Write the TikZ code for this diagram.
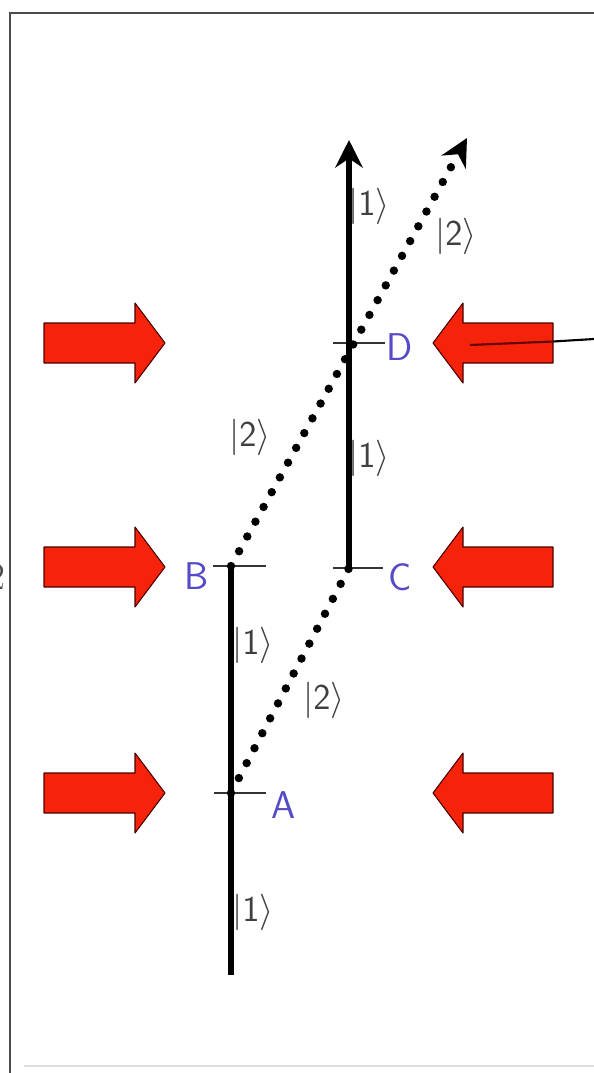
\documentclass[tikz,border=0pt]{standalone}
\usepackage{tikz}
\usetikzlibrary{arrows.meta}

\definecolor{arrowred}{RGB}{245,35,10}
\definecolor{eventblue}{RGB}{85,75,200}

\tikzset{
  worldline/.style={line width=3.4pt},
  photonline/.style={line width=4.8pt,line cap=round,dash pattern=on 0pt off 9.6pt},
  eventtick/.style={line width=0.9pt,black!80},
  ketlabel/.style={black!75,font=\fontsize{20}{24}\selectfont},
  eventlabel/.style={eventblue,font=\fontsize{22}{26}\selectfont\sffamily},
  pulse/.style={fill=arrowred,draw=black!70!red,line width=0.6pt,line join=round}
}

\begin{document}
\begin{tikzpicture}[x=0.02cm,y=-0.02cm,>={Stealth[length=0.55cm,width=0.55cm]}]
  \useasboundingbox (0,0) rectangle (594,1073);

  % frame
  \draw[gray!60!black,line width=1.6pt] (594,13) -| (10,1073);
  \draw[gray!25,line width=0.6pt] (24,1066) -- (594,1066);
  \begin{scope}
    \clip (0,540) rectangle (5,610);
    \node[black!70,font=\fontsize{22}{26}\selectfont] (cut) at (-4,577) {2};
  \end{scope}

  % events
  \coordinate (start1) at (231,975);
  \coordinate (A) at (231,793);
  \coordinate (B) at (231,566);
  \coordinate (C) at (349,568);
  \coordinate (D) at (349,343);
  \coordinate (end1) at (349,140);
  \coordinate (end2) at (467,138);

  % laser pulses
  \foreach \y in {343,567,793} {
    \draw[pulse] (44,\y-20) -- (135,\y-20) -- (135,\y-40) -- (165,\y)
      -- (135,\y+40) -- (135,\y+20) -- (44,\y+20) -- cycle;
  }
  \coordinate (wire) at (594,339);
  \foreach \y in {343,567,793} {
    \draw[pulse] (553,\y-20) -- (463,\y-20) -- (463,\y-40) -- (433,\y)
      -- (463,\y+40) -- (463,\y+20) -- (553,\y+20) -- cycle;
  }
  \draw[line width=1.2pt,red!40!black] (470,345) -- (553,341.5);
  \draw[line width=1.2pt] (553,341.5) -- (wire);

  % ticks
  \draw[eventtick] (A) ++(-17,0) -- ++(52,0);
  \draw[eventtick] (B) ++(-18,0) -- ++(53,0);
  \draw[eventtick] (C) ++(-16,0) -- ++(50,0);
  \draw[eventtick] (D) ++(-16,0) -- ++(52,0);

  % paths
  \draw[worldline] (start1) -- (B);
  \draw[worldline,->] (C) -- (end1);
  \draw[photonline] (A) -- (C);
  \draw[photonline,->] (B) -- (end2);

  % labels
  \node[ketlabel] (k1) at (253,912) {$|\mathsf{1}\rangle$};
  \node[ketlabel] (k2) at (253,645) {$|\mathsf{1}\rangle$};
  \node[ketlabel] (k3) at (369,458) {$|\mathsf{1}\rangle$};
  \node[ketlabel] (k4) at (369,206) {$|\mathsf{1}\rangle$};
  \node[ketlabel] (k5) at (324,700) {$|\mathsf{2}\rangle$};
  \node[ketlabel] (k6) at (250,437) {$|\mathsf{2}\rangle$};
  \node[ketlabel] (k7) at (456,236) {$|\mathsf{2}\rangle$};

  \node[eventlabel] (lblA) at (284,805) {A};
  \node[eventlabel] (lblB) at (197,576) {B};
  \node[eventlabel] (lblC) at (400,577) {C};
  \node[eventlabel] (lblD) at (400,347) {D};
\end{tikzpicture}
\end{document}
